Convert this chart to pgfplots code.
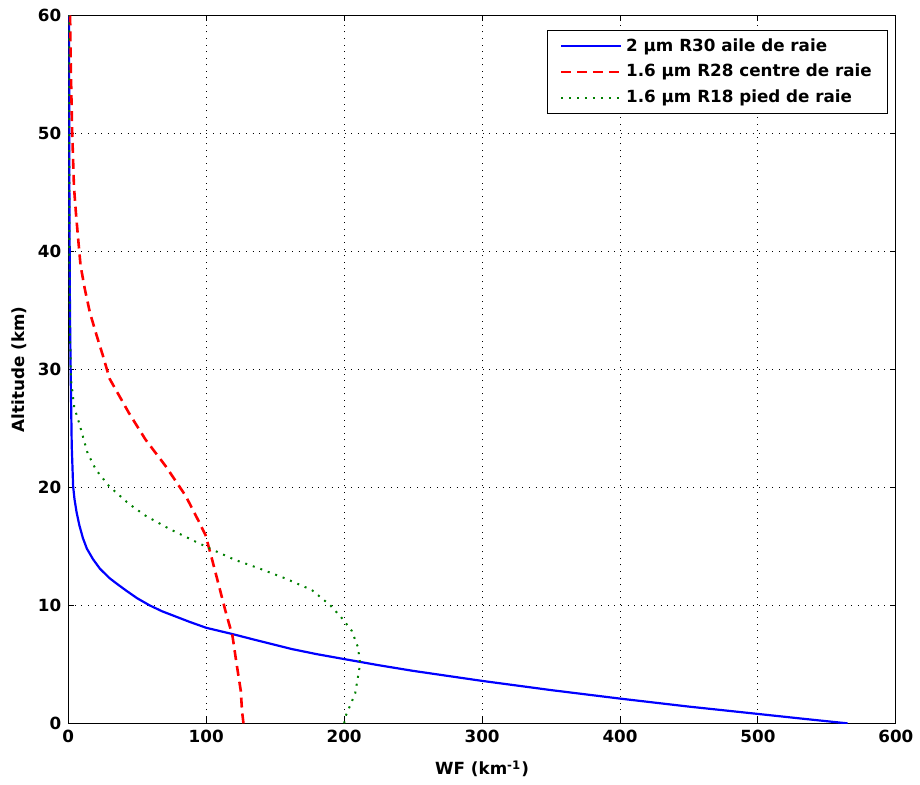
\documentclass[border=0pt]{standalone}
\usepackage{fontspec}
\setmainfont{DejaVu Sans}
\usepackage{pgfplots}
\pgfplotsset{compat=1.18}
\newcommand{\cf}{\fontsize{8.4}{10}\selectfont\bfseries}
\begin{document}
\begin{tikzpicture}
\begin{axis}[
  scale only axis,
  width=415pt, height=355pt,
  xmin=0, xmax=600, ymin=0, ymax=60,
  xtick={0,100,...,600}, ytick={0,10,...,60},
  /pgf/number format/assume math mode=true,
  tick label style={font=\cf},
  label style={font=\cf},
  xlabel={WF (km\textsuperscript{-1})},
  ylabel={Altitude (km)},
  xlabel style={yshift=-2pt},
  ylabel style={yshift=-1pt},
  tick align=inside,
  major tick length=3pt,
  tick style={black, line width=0.5pt},
  axis line style={black, line width=0.6pt},
  grid=major,
  grid style={black, line width=0.5pt, dash pattern=on 0.5pt off 2.8pt},
  legend style={at={(rel axis cs:1,1)}, anchor=north east, xshift=-3.75pt, yshift=-7.25pt,
     draw=black, line width=0.6pt, font=\cf, cells={anchor=west}, inner xsep=6pt, inner ysep=2pt, row sep=1pt},
  legend image code/.code={\draw[#1] (0pt,0pt) -- (30pt,0pt);},
]
\addplot[blue, line width=1.1pt] coordinates {
(565,0) (532,0.4) (500,0.8) (450,1.42) (400,2.1) (350,2.82) (300,3.6) (250,4.45) (225,4.93) (200,5.45) (180,5.87) (162,6.3) (138,7.0) (119,7.57) (100,8.1) (88,8.6) (78,9.05) (68,9.5) (59,10) (50,10.6) (42,11.25) (35,11.85) (30,12.3) (23,13.1) (18,13.9) (13.5,14.8) (10.6,15.7) (8,16.8) (6,17.9) (4.5,19) (3.5,20.1) (2.5,23.5) (1.8,29) (1.2,35) (0.8,45) (0.5,60)
};
\addlegendentry{2 µm R30 aile de raie}
\addplot[red, line width=1.3pt, dash pattern=on 5pt off 3pt] coordinates {
(127,0) (126,1) (125,2.8) (122,5.06) (119,7.43) (114,9.5) (109,11.76) (104,14.0) (99.5,15.95) (94.7,17.1) (85,19.3) (70.6,21.8) (56,24.05) (44,26.3) (30,29.2) (25,31.2) (20.5,32.9) (15.7,34.8) (12,36.8) (8.9,38.8) (7.2,41) (5.5,43.3) (4.1,45.5) (3.3,48.4) (2.7,50.6) (2.3,52.9) (1.8,55.7) (1.3,60)
};
\addlegendentry{1.6 µm R28 centre de raie}
\addplot[green!50!black, line width=1pt, dash pattern=on 1pt off 3pt] coordinates {
(200,0) (201,0.6) (204,1.42) (208,2.54) (210,3.94) (211.6,5.06) (210,6.45) (205.5,7.85) (198,8.97) (190,10) (176.6,11.3) (157,12.3) (138,13.15) (121,13.85) (103,14.8) (92.3,15.4) (73,16.5) (56,17.6) (44,18.6) (29.6,20.1) (20,21.5) (14,22.9) (8,25.4) (4.3,26.8) (2,29.1) (1.2,33) (0.8,40) (0.5,60)
};
\addlegendentry{1.6 µm R18 pied de raie}
\end{axis}
\path ([xshift=-34.25pt,yshift=-30.5pt]current axis.south west) rectangle ([xshift=10.25pt,yshift=7.75pt]current axis.north east);
\end{tikzpicture}
\end{document}
